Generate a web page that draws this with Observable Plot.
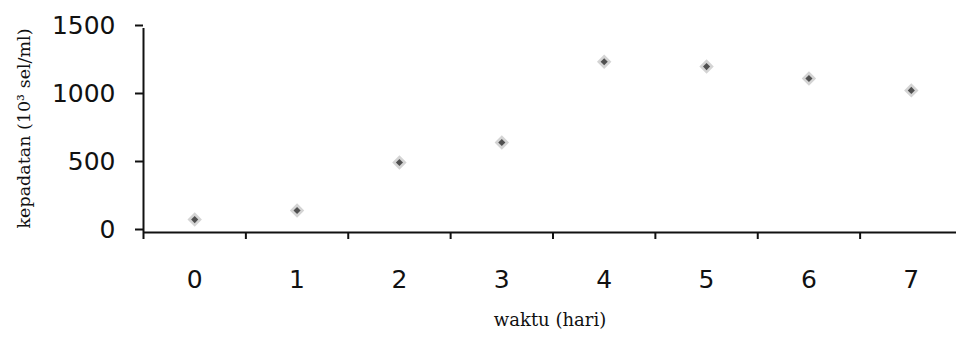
<!DOCTYPE html>
<html>
<head>
<meta charset="utf-8">
<script src="https://cdn.jsdelivr.net/npm/d3@7"></script>
<script src="https://cdn.jsdelivr.net/npm/@observablehq/plot@0.6"></script>
<style>
  html, body { margin: 0; padding: 0; background: #fff; }
  #chart svg { display: block; }
</style>
</head>
<body>
<div id="chart"></div>
<script>
// Data
const days = [0, 1, 2, 3, 4, 5, 6, 7];
const density = [95, 162, 515, 662, 1255, 1220, 1132, 1045];
const yTicks = [0, 500, 1000, 1500];
const xLabel = "waktu (hari)";
const yLabel = "kepadatan (10³ sel/ml)";

const data = days.map((d, i) => ({day: d, value: density[i]}));
const boundaries = days.map(d => d - 0.5);

const chart = Plot.plot({
  width: 956,
  height: 340,
  marginLeft: 143,
  marginRight: 0,
  marginTop: 28,
  marginBottom: 108,
  x: {type: "linear", domain: [-0.5, 7.5], range: [143, 962]},
  y: {domain: [0, 1500]},
  style: {fontFamily: "DejaVu Sans", background: "white", color: "#111"},
  marks: [
    Plot.axisY(yTicks, {tickSize: 8, tickPadding: 20, fontSize: 25, dy: -3, strokeWidth: 2, tickFormat: d => String(d), label: null}),
    Plot.axisX(boundaries, {tickSize: 7, tickFormat: () => "", strokeWidth: 2, label: null}),
    Plot.axisX(days, {tickSize: 0, tickPadding: 38, fontSize: 25, tickFormat: d => String(d), label: null}),
    Plot.ruleY([0], {stroke: "#111", strokeWidth: 2}),
    Plot.ruleX([-0.5], {y1: 0, y2: 1500, stroke: "#111", strokeWidth: 2}),
    Plot.dot(data, {x: "day", y: "value", symbol: "diamond2", r: 6.5, fill: "#d4d4d4"}),
    Plot.dot(data, {x: "day", y: "value", symbol: "diamond2", r: 3.2, fill: "#505050"}),
    Plot.text([yLabel], {frameAnchor: "left", textAnchor: "middle", dx: -119, dy: -2, rotate: -90, fontSize: 17.5, fontFamily: "DejaVu Serif", fill: "#111"}),
    Plot.text([xLabel], {frameAnchor: "bottom", textAnchor: "middle", dy: 93, fontSize: 18, fontFamily: "DejaVu Serif", fill: "#111"})
  ]
});
document.getElementById("chart").appendChild(chart);
</script>
</body>
</html>
